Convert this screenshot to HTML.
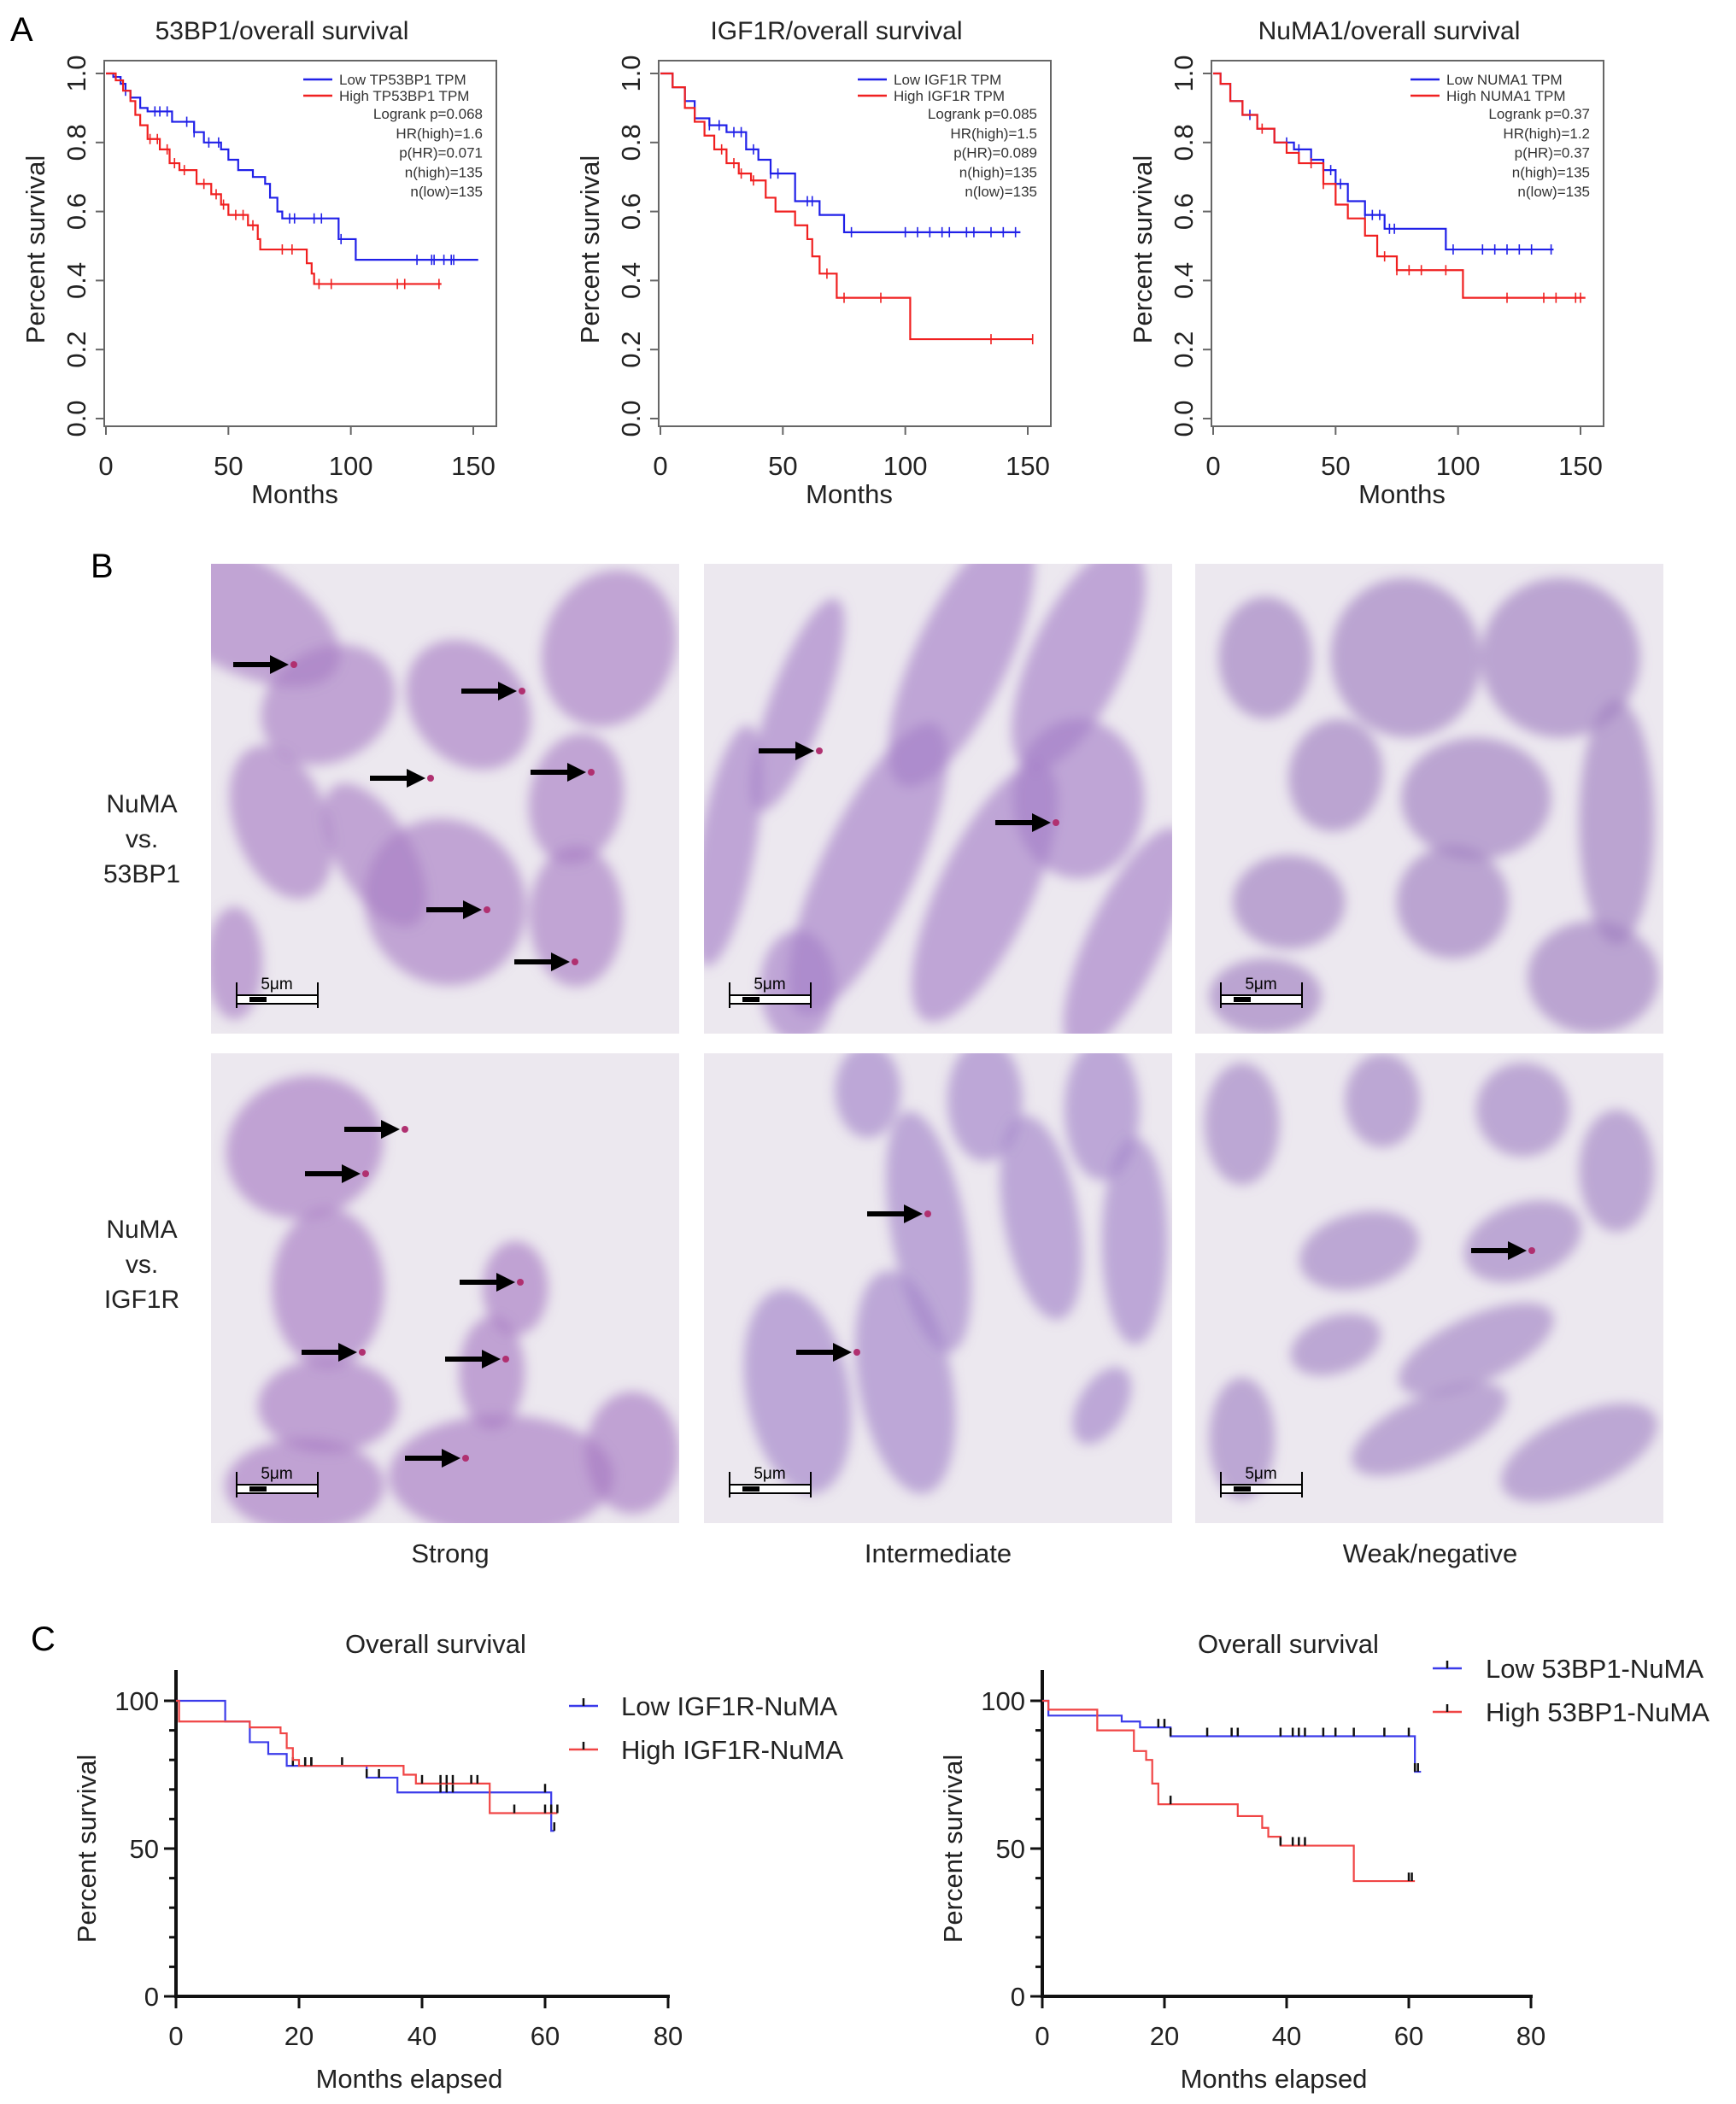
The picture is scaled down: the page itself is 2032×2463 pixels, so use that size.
<!DOCTYPE html>
<html><head><meta charset="utf-8"><style>
body{margin:0;background:#fff}
svg{display:block;font-family:"Liberation Sans",Arial,sans-serif}
</style></head><body>
<svg id="fig" width="2032" height="2463" viewBox="0 0 2032 2463" xmlns="http://www.w3.org/2000/svg">
<defs>
<filter id="blur" x="-20%" y="-20%" width="140%" height="140%"><feGaussianBlur stdDeviation="7"/></filter>
<clipPath id="c0"><rect x="0" y="0" width="548" height="550"/></clipPath>
</defs>
<g id="root"></g>
</svg>
<script>
// ---------- Panel A data ----------
const aTitles = ["53BP1/overall survival","IGF1R/overall survival","NuMA1/overall survival"];
const aLegendLow = ["Low TP53BP1 TPM","Low IGF1R TPM","Low NUMA1 TPM"];
const aLegendHigh = ["High TP53BP1 TPM","High IGF1R TPM","High NUMA1 TPM"];
const aStats = [
 ["Logrank p=0.068","HR(high)=1.6","p(HR)=0.071","n(high)=135","n(low)=135"],
 ["Logrank p=0.085","HR(high)=1.5","p(HR)=0.089","n(high)=135","n(low)=135"],
 ["Logrank p=0.37","HR(high)=1.2","p(HR)=0.37","n(high)=135","n(low)=135"]];
const aXTicks = [0,50,100,150];
const aYTicks = [0,0.2,0.4,0.6,0.8,1.0];
const a1LowT = [0,3,6,8,10,14,17,27,36,40,47,50,54,60,65,67,70,72,95,102,152];
const a1LowS = [1,.99,.97,.95,.93,.90,.89,.86,.83,.80,.78,.75,.72,.70,.68,.64,.60,.58,.52,.46,.46];
const a1HighT = [0,4,7,10,12,14,17,22,26,30,37,43,47,50,58,62,63,82,84,85,137];
const a1HighS = [1,.98,.95,.92,.88,.85,.81,.78,.74,.72,.68,.65,.62,.59,.56,.52,.49,.45,.42,.39,.39];
const a2LowT = [0,5,10,14,20,27,35,40,45,55,65,75,147];
const a2LowS = [1,.96,.92,.87,.85,.83,.78,.75,.71,.63,.59,.54,.54];
const a2HighT = [0,5,10,14,18,22,27,32,37,43,47,55,60,62,65,72,102,152];
const a2HighS = [1,.96,.90,.86,.82,.78,.74,.71,.69,.64,.60,.56,.52,.47,.42,.35,.23,.23];
const a3LowT = [0,3,7,12,18,25,33,40,45,50,55,62,70,95,139];
const a3LowS = [1,.97,.92,.88,.84,.80,.78,.75,.72,.68,.63,.59,.55,.49,.49];
const a3HighT = [0,3,7,12,18,25,30,35,45,50,55,62,67,75,102,152];
const a3HighS = [1,.97,.92,.88,.84,.80,.77,.74,.68,.62,.58,.53,.47,.43,.35,.35];
const a1LowCens=[8,20,22,25,33,36,42,46,75,77,85,88,96,127,133,134,138,141,142];
const a1HighCens=[18,21,25,28,32,40,45,48,53,56,60,72,76,87,92,119,122,136];
const a2LowCens=[20,24,30,33,38,45,48,60,62,78,100,105,110,115,118,125,128,135,140,145];
const a2HighCens=[25,30,33,38,68,75,90,135,152];
const a3LowCens=[15,30,35,40,48,52,62,65,68,72,74,98,110,115,120,125,130,138];
const a3HighCens=[20,40,45,70,75,80,85,95,120,135,140,148,150];
const aSeries=[[a1LowT,a1LowS,a1HighT,a1HighS,a1LowCens,a1HighCens],[a2LowT,a2LowS,a2HighT,a2HighS,a2LowCens,a2HighCens],[a3LowT,a3LowS,a3HighT,a3HighS,a3LowCens,a3HighCens]];

// ---------- Panel C data ----------
const cTitles=["Overall survival","Overall survival"];
const cLegendLow=["Low IGF1R-NuMA","Low 53BP1-NuMA"];
const cLegendHigh=["High IGF1R-NuMA","High 53BP1-NuMA"];
const cXTicks=[0,20,40,60,80];
const cYTicks=[0,50,100];
const c1LowT=[0,8,12,15,18,31,36,61,61.5];
const c1LowS=[100,93,86,82,78,74,69,56,56];
const c1HighT=[0,0.5,12,17,18,19,20,37,39,51,62];
const c1HighS=[100,93,91,89,84,80,78,75,72,62,62];
const c2LowT=[0,1,13,16,21,61,62];
const c2LowS=[100,95,93,91,88,76,76];
const c2HighT=[0,1,9,15,17,18,19,32,36,37,39,51,61];
const c2HighS=[100,97,90,83,80,72,65,61,57,54,51,39,39];
const c1LowCens=[19,21,22,27,31,33,43,44,45,60,61.5];
const c1HighCens=[21,22,40,43,44,45,48,49,55,60,61,62];
const c2LowCens=[19,20,21,27,31,32,39,41,42,43,46,48,51,56,60,61,61.5];
const c2HighCens=[21,39,41,42,43,60,60.5];
const cSeries=[[c1LowT,c1LowS,c1HighT,c1HighS,c1LowCens,c1HighCens],[c2LowT,c2LowS,c2HighT,c2HighS,c2LowCens,c2HighCens]];

const NS="http://www.w3.org/2000/svg";
const root=document.getElementById('root');
function mk(tag,attrs,parent,text){const e=document.createElementNS(NS,tag);for(const k in attrs)e.setAttribute(k,attrs[k]);if(text!==undefined)e.textContent=text;(parent||root).appendChild(e);return e;}
function stepPath(T,S,fx,fy){let d='M'+fx(T[0])+','+fy(S[0]);for(let i=1;i<T.length;i++){d+=' H'+fx(T[i])+' V'+fy(S[i]);}return d;}
function valAt(T,S,t){let v=S[0];for(let i=0;i<T.length;i++){if(T[i]<=t)v=S[i];}return v;}

let L;
L=mk('text',{x:12,y:48,'font-size':40},root,'A');
L=mk('text',{x:106,y:676,'font-size':40},root,'B');
L=mk('text',{x:36,y:1932,'font-size':40},root,'C');

// ---------- Draw panel A ----------
aSeries.forEach((ser,p)=>{
 const dx=[0,649,1296][p];
 const g=mk('g',{});
 const fx=t=>dx+124+t*(554-124)/150, fy=s=>490-s*(490-86);
 let e=mk('text',{x:dx+330,y:46,'font-size':30,'text-anchor':'middle',fill:'#222'},g,aTitles[p]);
 e=mk('rect',{x:dx+122,y:71,width:459,height:428,fill:'none',stroke:'#666','stroke-width':2},g);
 aXTicks.forEach(v=>{mk('line',{x1:fx(v),x2:fx(v),y1:499,y2:509,stroke:'#666','stroke-width':2},g);
  e=mk('text',{x:fx(v),y:556,'font-size':31,'text-anchor':'middle',fill:'#222'},g,String(v));});
 aYTicks.forEach(v=>{mk('line',{x1:dx+112,x2:dx+122,y1:fy(v),y2:fy(v),stroke:'#666','stroke-width':2},g);
  e=mk('text',{x:0,y:0,'font-size':31,'text-anchor':'middle',fill:'#222',transform:`translate(${dx+100},${fy(v)}) rotate(-90)`},g,v.toFixed(1));});
 e=mk('text',{x:0,y:0,'font-size':31,'text-anchor':'middle',fill:'#222',transform:`translate(${dx+52},292) rotate(-90)`},g,'Percent survival');
 e=mk('text',{x:dx+345,y:589,'font-size':31,'text-anchor':'middle',fill:'#222'},g,'Months');
 const cols=['#2020e8','#f02020'];
 [0,1].forEach(k=>{const T=ser[k*2],S=ser[k*2+1];
  e=mk('path',{d:stepPath(T,S,fx,fy),fill:'none',stroke:cols[k],'stroke-width':2.2},g);
  ser[4+k].forEach(t=>{const x=fx(t),y=fy(valAt(T,S,t));mk('line',{x1:x,x2:x,y1:y-6,y2:y+6,stroke:cols[k],'stroke-width':1.6},g);});
 });
 mk('line',{x1:dx+355,x2:dx+389,y1:93,y2:93,stroke:cols[0],'stroke-width':2.5},g);
 e=mk('text',{x:dx+397,y:99,'font-size':17,fill:'#333'},g,aLegendLow[p]);
 mk('line',{x1:dx+355,x2:dx+389,y1:112,y2:112,stroke:cols[1],'stroke-width':2.5},g);
 e=mk('text',{x:dx+397,y:118,'font-size':17,fill:'#333'},g,aLegendHigh[p]);
 aStats[p].forEach((s,i)=>{e=mk('text',{x:dx+565,y:139+i*22.8,'font-size':17,'text-anchor':'end',fill:'#333'},g,s);});
});

// ---------- Panel B micrographs ----------
const colX=[247,824,1399], rowY=[660,1233], W=548, H=550;
const nuclei=[
 [[.05,.1,.12,.25,-60],[.25,.3,.15,.12,-30],[.85,.18,.14,.17,20],[.55,.3,.12,.15,-40],[.78,.5,.1,.14,10],[.5,.72,.17,.18,-30],[.78,.75,.1,.15,0],[.15,.55,.1,.17,-20],[.05,.85,.06,.12,0],[.35,.62,.08,.17,-30]],
 [[.2,.3,.06,.24,20],[.55,.2,.1,.3,25],[.8,.2,.1,.26,25],[.8,.5,.14,.17,0],[.35,.65,.1,.34,25],[.6,.7,.1,.3,25],[.9,.8,.08,.26,25],[.05,.6,.06,.26,10],[.2,.9,.08,.12,0]],
 [[.15,.2,.1,.13,0],[.45,.2,.16,.17,-10],[.78,.2,.17,.17,0],[.3,.45,.1,.12,10],[.6,.5,.16,.13,0],[.9,.55,.08,.26,0],[.2,.72,.12,.1,0],[.55,.72,.12,.12,0],[.15,.92,.12,.08,0],[.85,.88,.14,.12,0]],
 [[.2,.2,.17,.15,-20],[.25,.5,.12,.17,0],[.65,.5,.07,.1,0],[.6,.68,.07,.12,0],[.25,.75,.15,.1,0],[.2,.92,.17,.1,0],[.62,.9,.24,.13,0],[.9,.85,.1,.13,0]],
 [[.35,.08,.07,.1,0],[.6,.1,.08,.13,0],[.85,.12,.08,.15,0],[.48,.38,.08,.26,-10],[.72,.35,.08,.22,-10],[.92,.4,.07,.22,0],[.2,.72,.11,.22,-10],[.43,.7,.1,.24,-10],[.85,.75,.05,.09,30]],
 [[.1,.15,.08,.13,0],[.4,.1,.08,.1,0],[.7,.12,.1,.1,0],[.9,.25,.08,.13,0],[.35,.42,.13,.08,-15],[.7,.4,.13,.08,-20],[.3,.62,.1,.06,-20],[.6,.63,.18,.07,-25],[.5,.8,.18,.07,-25],[.1,.82,.07,.13,0],[.82,.85,.18,.08,-25]]];
const shade=['#a77bc4','#a37dc6','#9d7abf','#a578c2','#a07fc8','#a07fc4'];
let idx=0;
rowY.forEach((ry,r)=>{colX.forEach((cx,c)=>{
 const g=mk('g',{transform:`translate(${cx},${ry})`,'clip-path':'url(#c0)'});
 
 
 mk('rect',{x:0,y:0,width:W,height:H,fill:'#ece8ef'},g);
 const bg=mk('g',{filter:'url(#blur)'},g);
 nuclei[idx].forEach(n=>{mk('ellipse',{cx:0,cy:0,rx:n[2]*W,ry:n[3]*H,fill:shade[idx],opacity:0.62,transform:`translate(${n[0]*W},${n[1]*H}) rotate(${n[4]})`},bg);});
 const sb=mk('g',{},g);
 mk('rect',{x:30,y:505,width:95,height:10,fill:'#fff',stroke:'#000','stroke-width':2},sb);
 mk('rect',{x:45,y:507,width:20,height:6,fill:'#000'},sb);
 mk('line',{x1:30,x2:30,y1:490,y2:520,stroke:'#000','stroke-width':2},sb);
 mk('line',{x1:125,x2:125,y1:490,y2:520,stroke:'#000','stroke-width':2},sb);
 mk('text',{x:77,y:498,'font-size':19,'text-anchor':'middle',fill:'#000'},sb,'5μm');
 idx++;
});});
const arrows=[[338,778],[605,809],[498,911],[686,904],[564,1065],[667,1126],[953,879],[1230,963],[468,1322],[422,1374],[418,1583],[603,1501],[586,1591],[539,1707],[1080,1421],[997,1583],[1787,1464]];
arrows.forEach(a=>{const g=mk('g',{});
 mk('line',{x1:a[0]-65,x2:a[0]-18,y1:a[1],y2:a[1],stroke:'#000','stroke-width':6},g);
 mk('polygon',{points:`${a[0]},${a[1]} ${a[0]-22},${a[1]-11} ${a[0]-22},${a[1]+11}`,fill:'#000'},g);
 mk('circle',{cx:a[0]+6,cy:a[1],r:4,fill:'#b03070'},g);});
[[166,951,'NuMA'],[166,992,'vs.'],[166,1033,'53BP1'],[166,1449,'NuMA'],[166,1490,'vs.'],[166,1531,'IGF1R']].forEach(t=>{
 const e=mk('text',{x:t[0],y:t[1],'font-size':30,'text-anchor':'middle',fill:'#222'},root,t[2]);});
[[527,'Strong'],[1098,'Intermediate'],[1674,'Weak/negative']].forEach(t=>{
 const e=mk('text',{x:t[0],y:1829,'font-size':31,'text-anchor':'middle',fill:'#222'},root,t[1]);});

// ---------- Draw panel C ----------
const cGeo=[{x0:206,x80:782,title:510,legLine:[666,700],legText:727,legY:[1997,2048]},{x0:1220,x80:1792,title:1508,legLine:[1677,1711],legText:1739,legY:[1953,2004]}];
cSeries.forEach((ser,p)=>{
 const G=cGeo[p];
 const g=mk('g',{});
 const fx=t=>G.x0+t*(G.x80-G.x0)/80, fy=s=>2337-s*(2337-1991)/100;
 let e=mk('text',{x:G.title,y:1935,'font-size':31,'text-anchor':'middle',fill:'#222'},g,cTitles[p]);
 mk('line',{x1:G.x0,x2:G.x0,y1:1955,y2:2339,stroke:'#111','stroke-width':4},g);
 mk('line',{x1:G.x0-2,x2:G.x80+2,y1:2337,y2:2337,stroke:'#111','stroke-width':4},g);
 for(let v=0;v<=100;v+=10){mk('line',{x1:G.x0-(v%50?8:14),x2:G.x0,y1:fy(v),y2:fy(v),stroke:'#111','stroke-width':3},g);}
 cYTicks.forEach(v=>{e=mk('text',{x:G.x0-20,y:fy(v)+11,'font-size':31,'text-anchor':'end',fill:'#222'},g,String(v));});
 cXTicks.forEach(v=>{mk('line',{x1:fx(v),x2:fx(v),y1:2337,y2:2351,stroke:'#111','stroke-width':3},g);
  e=mk('text',{x:fx(v),y:2394,'font-size':31,'text-anchor':'middle',fill:'#222'},g,String(v));});
 e=mk('text',{x:0,y:0,'font-size':31,'text-anchor':'middle',fill:'#222',transform:`translate(${G.x0-94},2164) rotate(-90)`},g,'Percent survival');
 e=mk('text',{x:(G.x0+G.x80)/2-15,y:2444,'font-size':31,'text-anchor':'middle',fill:'#222'},g,'Months elapsed');
 const cols=['#3b3bea','#f04545'];
 [0,1].forEach(k=>{const T=ser[k*2],S=ser[k*2+1];
  e=mk('path',{d:stepPath(T,S,fx,fy),fill:'none',stroke:cols[k],'stroke-width':2.2},g);
  ser[4+k].forEach(t=>{const x=fx(t),y=fy(valAt(T,S,t));mk('line',{x1:x,x2:x,y1:y-10,y2:y,stroke:'#111','stroke-width':2.5},g);});
  const ly=G.legY[k];
  mk('line',{x1:G.legLine[0],x2:G.legLine[1],y1:ly,y2:ly,stroke:cols[k],'stroke-width':2.5},g);
  mk('line',{x1:(G.legLine[0]+G.legLine[1])/2,x2:(G.legLine[0]+G.legLine[1])/2,y1:ly-9,y2:ly,stroke:'#111','stroke-width':2.5},g);
  e=mk('text',{x:G.legText,y:ly+11,'font-size':31,fill:'#222'},g,k?cLegendHigh[p]:cLegendLow[p]);
 });
});
</script>
</body></html>
